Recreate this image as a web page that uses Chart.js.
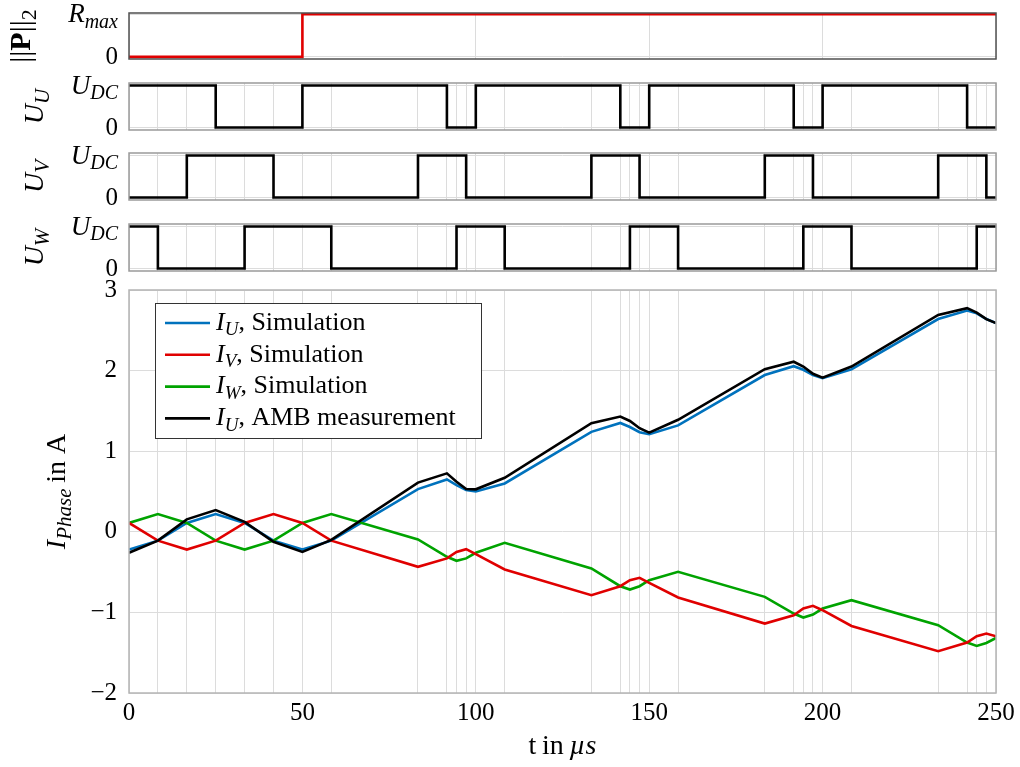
<!DOCTYPE html>
<html lang="en">
<head>
<meta charset="utf-8">
<title>Phase currents and switching states</title>
<script src="https://cdn.jsdelivr.net/npm/chart.js"></script>
<style>
  body { margin: 0; background: #ffffff; }
  #wrap { position: relative; width: 1020px; height: 767px; background: #ffffff; }
  #wrap canvas { position: absolute; left: 0; top: 0; }
</style>
</head>
<body>
<div id="wrap">
  <canvas id="cP" width="1020" height="767"></canvas>
  <canvas id="cU" width="1020" height="767"></canvas>
  <canvas id="cV" width="1020" height="767"></canvas>
  <canvas id="cW" width="1020" height="767"></canvas>
  <canvas id="cI" width="1020" height="767"></canvas>
</div>
<script>
// switching instants in µs (also used as vertical grid lines)
const switchTimes = [0, 8.33, 16.67, 25, 33.33, 41.67, 50, 58.33, 83.33, 91.67, 94.44, 97.22, 100,
  108.33, 133.33, 141.67, 144.44, 147.22, 150, 158.33, 183.33, 191.67, 194.44, 197.22, 200,
  208.33, 233.33, 241.67, 244.44, 247.22, 250];
const majorTicks = [0, 50, 100, 150, 200, 250];

// ||P||_2 (1 = R_max)
const pTimes = [0, 50, 250];
const pVals  = [0, 1, 1];

// switching states (1 = U_DC), value holds until next time
const uTimes = [0, 25, 50, 91.67, 100, 141.67, 150, 191.67, 200, 241.67, 250];
const uVals  = [1, 0, 1, 0, 1, 0, 1, 0, 1, 0, 0];
const vTimes = [0, 16.67, 41.67, 83.33, 97.22, 133.33, 147.22, 183.33, 197.22, 233.33, 247.22, 250];
const vVals  = [0, 1, 0, 1, 0, 1, 0, 1, 0, 1, 0, 0];
const wTimes = [0, 8.33, 33.33, 58.33, 94.44, 108.33, 144.44, 158.33, 194.44, 208.33, 244.44, 250];
const wVals  = [1, 0, 1, 0, 1, 0, 1, 0, 1, 0, 1, 1];

// phase currents in A, sampled at switchTimes
const iUsim  = [-0.22, -0.11, 0.11, 0.22, 0.11, -0.11, -0.22, -0.11, 0.53, 0.65, 0.58, 0.52, 0.50,
  0.60, 1.24, 1.35, 1.30, 1.235, 1.21, 1.32, 1.945, 2.055, 2.01, 1.945, 1.905,
  2.015, 2.64, 2.745, 2.71, 2.64, 2.59];
const iVsim  = [0.11, -0.11, -0.22, -0.11, 0.11, 0.22, 0.11, -0.11, -0.435, -0.33, -0.25, -0.215, -0.277,
  -0.467, -0.786, -0.675, -0.60, -0.571, -0.633, -0.815, -1.138, -1.035, -0.952, -0.919, -0.973,
  -1.168, -1.482, -1.374, -1.296, -1.262, -1.296];
const iWsim  = [0.11, 0.22, 0.11, -0.11, -0.22, -0.11, 0.11, 0.22, -0.095, -0.31, -0.36, -0.33, -0.26,
  -0.137, -0.455, -0.675, -0.716, -0.675, -0.60, -0.497, -0.807, -1.014, -1.064, -1.027, -0.952,
  -0.848, -1.159, -1.374, -1.416, -1.379, -1.317];
const iUmeas = [-0.26, -0.11, 0.154, 0.27, 0.124, -0.124, -0.25, -0.10, 0.61, 0.725, 0.62, 0.53, 0.527,
  0.67, 1.347, 1.43, 1.375, 1.285, 1.23, 1.39, 2.017, 2.11, 2.05, 1.96, 1.913,
  2.05, 2.69, 2.775, 2.72, 2.638, 2.59];

const FONT = "'Liberation Serif', 'DejaVu Serif', serif";
const GRID = '#dcdcdc';
const BLUE = '#0072bd', RED = '#e00000', GREEN = '#00a300', BLACK = '#000000';

// draws text made of parts: [text, style]; style '' | 'i' | 'b' | 's' (sub) | 'si' (sub italic)
function rich(ctx, parts, x, y, align, size) {
  size = size || 25;
  const fontFor = st => {
    const sub = st.indexOf('s') >= 0;
    const px = sub ? Math.round(size * 0.74) : size;
    return (st.indexOf('i') >= 0 ? 'italic ' : '') + (st.indexOf('b') >= 0 ? 'bold ' : '') + px + 'px ' + FONT;
  };
  let w = 0;
  parts.forEach(p => { ctx.font = fontFor(p[1]); w += ctx.measureText(p[0]).width; });
  let cx = align === 'right' ? x - w : (align === 'center' ? x - w / 2 : x);
  ctx.textAlign = 'left';
  ctx.textBaseline = 'middle';
  ctx.fillStyle = '#000';
  parts.forEach(p => {
    ctx.font = fontFor(p[1]);
    const dy = p[1].indexOf('s') >= 0 ? size * 0.28 : 0;
    ctx.fillText(p[0], cx, y + dy);
    cx += ctx.measureText(p[0]).width;
  });
}

function pts(xs, ys) {
  return xs.map((x, i) => ({ x: x, y: ys[i] }));
}

// one of the thin plots on top
function stripChart(id, times, vals, color, top, bottom, yMin, yMax, grid, title, titleX, titleSize, topLabel, frameColor) {
  new Chart(document.getElementById(id), {
    type: 'line',
    data: {
      datasets: [{
        data: pts(times, vals),
        borderColor: color,
        borderWidth: 2.6,
        stepped: true,
        pointRadius: 0,
        fill: false
      }]
    },
    options: {
      responsive: false,
      animation: false,
      devicePixelRatio: 1,
      layout: { padding: { left: 0, right: 24, top: top, bottom: 767 - bottom } },
      plugins: { legend: { display: false }, tooltip: { enabled: false } },
      scales: {
        x: {
          type: 'linear', min: 0, max: 250,
          afterBuildTicks: s => { s.ticks = grid.map(v => ({ value: v })); },
          afterFit: s => { s.height = 0; },
          ticks: { display: false },
          grid: { color: GRID, drawTicks: false },
          border: { display: false }
        },
        y: {
          min: yMin, max: yMax,
          afterBuildTicks: s => { s.ticks = [{ value: 0 }, { value: 1 }]; },
          afterFit: s => { s.width = 129; },
          ticks: { display: false },
          grid: { color: GRID, drawTicks: false },
          border: { display: false }
        }
      }
    },
    plugins: [{
      id: 'stripDeco',
      afterDraw(chart) {
        const ctx = chart.ctx, a = chart.chartArea, y = chart.scales.y;
        ctx.save();
        ctx.strokeStyle = frameColor;
        ctx.lineWidth = 1.5;
        ctx.strokeRect(a.left, a.top, a.right - a.left, a.bottom - a.top);
        rich(ctx, topLabel, a.left - 11, y.getPixelForValue(1) + 1, 'right', 27);
        rich(ctx, [['0', '']], a.left - 11, y.getPixelForValue(0) + 1, 'right', 25);
        ctx.translate(titleX, (a.top + a.bottom) / 2);
        ctx.rotate(-Math.PI / 2);
        rich(ctx, title, 0, 0, 'center', titleSize);
        ctx.restore();
      }
    }]
  });
}

const rMaxLabel = [['R', 'i'], ['max', 'si']];
const uDcLabel = [['U', 'i'], ['DC', 'si']];

stripChart('cP', pTimes, pVals, RED, 13, 59, -0.05, 1.03, majorTicks,
  [['||', ''], ['P', 'b'], ['||', ''], ['2', 's']], 22, 30, rMaxLabel, '#505050');
stripChart('cU', uTimes, uVals, BLACK, 83, 130, -0.06, 1.06, switchTimes,
  [['U', 'i'], ['U', 'si']], 36, 28, uDcLabel, '#9a9a9a');
stripChart('cV', vTimes, vVals, BLACK, 153, 200, -0.06, 1.06, switchTimes,
  [['U', 'i'], ['V', 'si']], 36, 28, uDcLabel, '#9a9a9a');
stripChart('cW', wTimes, wVals, BLACK, 224, 271, -0.06, 1.06, switchTimes,
  [['U', 'i'], ['W', 'si']], 36, 28, uDcLabel, '#9a9a9a');

// legend entries
const legendItems = [
  { color: BLUE,  parts: [['I', 'i'], ['U', 'si'], [', Simulation', '']] },
  { color: RED,   parts: [['I', 'i'], ['V', 'si'], [', Simulation', '']] },
  { color: GREEN, parts: [['I', 'i'], ['W', 'si'], [', Simulation', '']] },
  { color: BLACK, parts: [['I', 'i'], ['U', 'si'], [', AMB measurement', '']] }
];

new Chart(document.getElementById('cI'), {
  type: 'line',
  data: {
    datasets: [
      { data: pts(switchTimes, iUsim), borderColor: BLUE, order: 2 },
      { data: pts(switchTimes, iVsim), borderColor: RED, order: 1 },
      { data: pts(switchTimes, iWsim), borderColor: GREEN, order: 1 },
      { data: pts(switchTimes, iUmeas), borderColor: BLACK, order: 0 }
    ]
  },
  options: {
    responsive: false,
    animation: false,
    devicePixelRatio: 1,
    datasets: { line: { borderWidth: 2.6, pointRadius: 0, tension: 0, fill: false } },
    layout: { padding: { left: 0, right: 24, top: 290, bottom: 0 } },
    plugins: { legend: { display: false }, tooltip: { enabled: false } },
    scales: {
      x: {
        type: 'linear', min: 0, max: 250,
        afterBuildTicks: s => { s.ticks = switchTimes.map(v => ({ value: v })); },
        afterFit: s => { s.height = 74; },
        ticks: {
          autoSkip: false, maxRotation: 0, padding: 5, color: '#000',
          font: { family: FONT, size: 25 },
          callback: v => majorTicks.indexOf(v) >= 0 ? String(v) : ''
        },
        grid: { color: GRID, drawTicks: false },
        border: { display: false }
      },
      y: {
        min: -2, max: 3,
        afterFit: s => { s.width = 129; },
        ticks: {
          stepSize: 1, padding: 12, color: '#000',
          font: { family: FONT, size: 25 },
          callback: v => v < 0 ? '\u2212' + (-v) : String(v)
        },
        grid: { color: GRID, drawTicks: false },
        border: { display: false }
      }
    }
  },
  plugins: [{
    id: 'mainDeco',
    afterDraw(chart) {
      const ctx = chart.ctx, a = chart.chartArea;
      ctx.save();
      ctx.strokeStyle = '#b4b4b4';
      ctx.lineWidth = 1.5;
      ctx.strokeRect(a.left, a.top, a.right - a.left, a.bottom - a.top);

      // legend box
      const lx = 155, ly = 303, lw = 326, lh = 135;
      ctx.fillStyle = '#ffffff';
      ctx.fillRect(lx, ly, lw, lh);
      ctx.strokeStyle = '#333333';
      ctx.lineWidth = 1;
      ctx.strokeRect(lx + 0.5, ly + 0.5, lw, lh);
      legendItems.forEach((it, i) => {
        const yy = ly + 20 + i * 31.8;
        ctx.strokeStyle = it.color;
        ctx.lineWidth = 2.6;
        ctx.beginPath();
        ctx.moveTo(lx + 10, yy);
        ctx.lineTo(lx + 55, yy);
        ctx.stroke();
        rich(ctx, it.parts, lx + 61, yy, 'left', 26);
      });

      // axis titles
      rich(ctx, [['t\u2009in\u2009', ''], ['\u00b5s', 'i']], (a.left + a.right) / 2, 747, 'center', 28);
      ctx.translate(58, (a.top + a.bottom) / 2);
      ctx.rotate(-Math.PI / 2);
      rich(ctx, [['I', 'i'], ['Phase', 'si'], ['\u2009in A', '']], 0, 0, 'center', 28);
      ctx.restore();
    }
  }]
});
</script>
</body>
</html>
